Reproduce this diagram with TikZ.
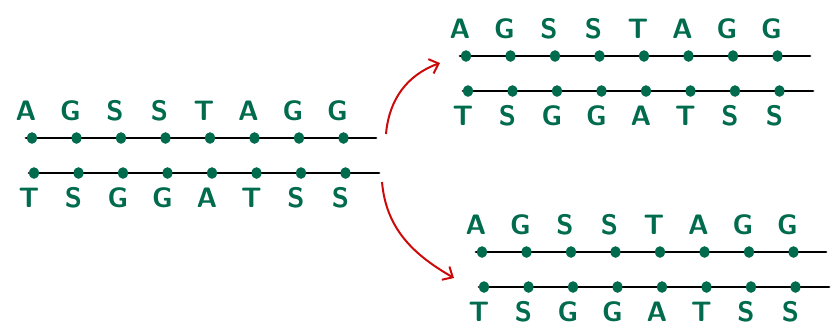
\documentclass[tikz,border=0pt]{standalone}
\usetikzlibrary{arrows.meta,shapes.geometric}
\definecolor{vert}{RGB}{0,107,77}
\definecolor{rouge}{RGB}{205,10,10}
% un double brin : deux lignes, huit bases par ligne
\newcommand{\Duplex}[1]{%
  \coordinate (#1hd) at (-6,0);
  \coordinate (#1hf) at (344,0);
  \coordinate (#1bd) at (-3,35);
  \coordinate (#1bf) at (347,35);
  \draw[brin] (#1hd)--(#1hf);
  \draw[brin] (#1bd)--(#1bf);
  \foreach \l [count=\i from 0] in {A,G,S,S,T,A,G,G}
    {\node[base] (#1h\i) at ({\i*44.5},0) {};
     \node[lettre] (#1lh\i) at ({\i*44.5-6},-27) {\l};}
  \foreach \l [count=\i from 0] in {T,S,G,G,A,T,S,S}
    {\node[base] (#1b\i) at ({\i*44.5+2},35) {};
     \node[lettre] (#1lb\i) at ({\i*44.5-3},60) {\l};}
}
\begin{document}
\begin{tikzpicture}[x=0.03cm,y=-0.03cm]
			\tikzstyle{brin}=[line width=2.3pt,line cap=round]
			\tikzstyle{base}=[ellipse,fill=vert,inner sep=0pt,minimum width=8.5pt,minimum height=10pt]
			\tikzstyle{lettre}=[text=vert,inner sep=0pt,font=\sffamily\bfseries\fontsize{24}{28}\selectfont]
			\tikzstyle{fleche}=[-{Straight Barb[length=7pt,width=13pt]},rouge,line width=1.7pt]
			\useasboundingbox (0,0) rectangle (833,326);
			\begin{scope}[shift={(32,138)}]
				\Duplex{G}
			\end{scope}
			\begin{scope}[shift={(466,56)}]
				\Duplex{H}
			\end{scope}
			\begin{scope}[shift={(482,252)}]
				\Duplex{B}
			\end{scope}
			\coordinate (depH) at (386,134);
			\coordinate (arrH) at (440,63);
			\coordinate (depB) at (382,182);
			\coordinate (arrB) at (454,278);
			\draw[fleche] (depH) to[out=85,in=200] (arrH);
			\draw[fleche] (depB) to[out=-85,in=150] (arrB);
		\end{tikzpicture}
\end{document}
